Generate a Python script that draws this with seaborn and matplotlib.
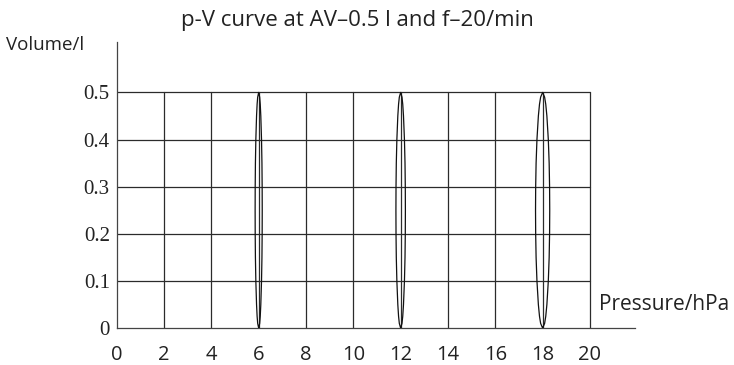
import numpy as np
import pandas as pd
import matplotlib
matplotlib.use("Agg")
import matplotlib.pyplot as plt
import seaborn as sns

# loop centres (pressure, hPa) and half widths
centres = [6, 12, 18]
half_widths = [0.15, 0.2, 0.3]
# volume samples along one stroke and the relative loop width at each
volume = [0, 0.01, 0.025, 0.05, 0.1, 0.15, 0.2, 0.25,
          0.3, 0.35, 0.4, 0.45, 0.475, 0.49, 0.5]
profile = [0, 0.28, 0.44, 0.6, 0.8, 0.92, 0.98, 1.0,
           0.98, 0.92, 0.8, 0.6, 0.44, 0.28, 0]

x_ticks = [0, 2, 4, 6, 8, 10, 12, 14, 16, 18, 20]
y_ticks = [0, 0.1, 0.2, 0.3, 0.4, 0.5]

rows = []
for c, hw in zip(centres, half_widths):
    # up the right side, back down the left side
    for v, p in zip(volume, profile):
        rows.append({"loop": c, "pressure": c + hw * p, "volume": v})
    for v, p in zip(volume[::-1], profile[::-1]):
        rows.append({"loop": c, "pressure": c - hw * p, "volume": v})
df = pd.DataFrame(rows)

sns.set_theme(style="white")
plt.rcParams["font.family"] = ["Open Sans", "DejaVu Sans"]

fig = plt.figure(figsize=(7.34, 3.65), dpi=100)
ax = fig.add_axes([0.159, 0.101, 0.706, 0.784])

# grid inside the 0..20 x 0..0.5 box only
for x in x_ticks[1:]:
    ax.plot([x, x], [0, 0.5], color="#2b2b2b", lw=0.9, zorder=1)
for y in y_ticks[1:]:
    ax.plot([0, 20], [y, y], color="#2b2b2b", lw=0.9, zorder=1)

for c in centres:
    sub = df[df["loop"] == c]
    sns.lineplot(data=sub, x="pressure", y="volume", sort=False,
                 estimator=None, color="#111111", lw=0.9, ax=ax, zorder=3)

ax.set_xlim(0, 21.9)
ax.set_ylim(0, 0.607)
ax.set_xticks(x_ticks)
ax.set_xticklabels([str(t) for t in x_ticks], fontsize=14.5, color="#222222")
ax.set_yticks(y_ticks)
ax.set_yticklabels(["0", "0.1", "0.2", "0.3", "0.4", "0.5"],
                   family="Liberation Serif", fontsize=15, color="#222222")
ax.tick_params(axis="x", length=0, pad=12)
ax.tick_params(axis="y", length=0, pad=5)
ax.set_xlabel("")
ax.set_ylabel("")

for side in ["top", "right"]:
    ax.spines[side].set_visible(False)
for side in ["left", "bottom"]:
    ax.spines[side].set_color("#444444")
    ax.spines[side].set_linewidth(0.9)

fig.text(0.487, 0.945, "p-V curve at AV\u20130.5 l and f\u201320/min",
         ha="center", va="center", fontsize=16, color="#222222")
fig.text(0.008, 0.877, "Volume/l", ha="left", va="center",
         fontsize=13.5, color="#222222")
fig.text(0.816, 0.165, "Pressure/hPa", ha="left", va="center",
         fontsize=15, color="#222222")

fig.savefig("out.png", dpi=100, facecolor="white")
